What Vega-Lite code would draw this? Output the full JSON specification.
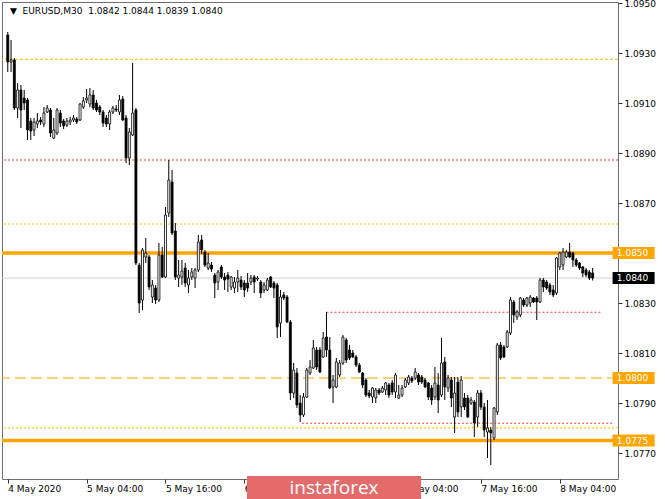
{
"$schema":"https://vega.github.io/schema/vega-lite/v6.json",
"width":616,"height":477,
"autosize":{"type":"none"},
"padding":{"left":2,"top":2,"right":47,"bottom":20},
"background":"white",
"config":{
 "view":{"stroke":"#6e6e6e","strokeWidth":1},
 "axis":{"grid":false,"domain":false,"labelFont":"DejaVu Sans","labelFontSize":9,"labelColor":"#000000","tickColor":"#333333","tickSize":4,"labelPadding":2}
},
"datasets":{
"levels":[
 {"price":1.09275,"kind":"far"},
 {"price":1.08872,"kind":"swing"},
 {"price":1.08616,"kind":"pivot"},
 {"price":1.0840,"kind":"bid"},
 {"price":1.0800,"kind":"mid"},
 {"price":1.07801,"kind":"pivot"},
 {"price":1.0850,"kind":"key"},
 {"price":1.0775,"kind":"key"},
 {"price":1.08263,"kind":"swing","from":"2020-05-06T16:30Z","to":"2020-05-08T10:27Z"},
 {"price":1.07819,"kind":"swing","from":"2020-05-06T12:48Z","to":"2020-05-08T12:06Z"}
],
"tags":[
 {"price":1.0850,"kind":"key"},
 {"price":1.0840,"kind":"bid"},
 {"price":1.0800,"kind":"mid"},
 {"price":1.0775,"kind":"key"}
],
"header":[
 {"label":"\u25bc\u00a0\u00a0EURUSD,M30\u00a0\u00a01.0842 1.0844 1.0839 1.0840"}
],
"brand":[
 {"label":"instaforex"}
],
"candles":[
{"t":"2020-05-04T16:00Z","o":1.09372,"h":1.09384,"l":1.09224,"c":1.09264},
{"t":"2020-05-04T16:30Z","o":1.09264,"h":1.09352,"l":1.09224,"c":1.09272},
{"t":"2020-05-04T17:00Z","o":1.09272,"h":1.09280,"l":1.09072,"c":1.09080},
{"t":"2020-05-04T17:30Z","o":1.09080,"h":1.09180,"l":1.09040,"c":1.09152},
{"t":"2020-05-04T18:00Z","o":1.09152,"h":1.09172,"l":1.09000,"c":1.09072},
{"t":"2020-05-04T18:30Z","o":1.09120,"h":1.09152,"l":1.09072,"c":1.09100},
{"t":"2020-05-04T19:00Z","o":1.09112,"h":1.09120,"l":1.08952,"c":1.08992},
{"t":"2020-05-04T19:30Z","o":1.09028,"h":1.09040,"l":1.08952,"c":1.08988},
{"t":"2020-05-04T20:00Z","o":1.08992,"h":1.09040,"l":1.08968,"c":1.09024},
{"t":"2020-05-04T20:30Z","o":1.09016,"h":1.09060,"l":1.09000,"c":1.09028},
{"t":"2020-05-04T21:00Z","o":1.09032,"h":1.09044,"l":1.09012,"c":1.09024},
{"t":"2020-05-04T21:30Z","o":1.09016,"h":1.09084,"l":1.09004,"c":1.09060},
{"t":"2020-05-04T22:00Z","o":1.09064,"h":1.09092,"l":1.09060,"c":1.09080},
{"t":"2020-05-04T22:30Z","o":1.09072,"h":1.09080,"l":1.08964,"c":1.08980},
{"t":"2020-05-04T23:00Z","o":1.08960,"h":1.09040,"l":1.08956,"c":1.08992},
{"t":"2020-05-04T23:30Z","o":1.08980,"h":1.09080,"l":1.08972,"c":1.09072},
{"t":"2020-05-05T00:00Z","o":1.09060,"h":1.09072,"l":1.09004,"c":1.09020},
{"t":"2020-05-05T00:30Z","o":1.09028,"h":1.09036,"l":1.08996,"c":1.09008},
{"t":"2020-05-05T01:00Z","o":1.09012,"h":1.09040,"l":1.09004,"c":1.09028},
{"t":"2020-05-05T01:30Z","o":1.09024,"h":1.09044,"l":1.09012,"c":1.09032},
{"t":"2020-05-05T02:00Z","o":1.09032,"h":1.09052,"l":1.09024,"c":1.09040},
{"t":"2020-05-05T02:30Z","o":1.09036,"h":1.09044,"l":1.09016,"c":1.09024},
{"t":"2020-05-05T03:00Z","o":1.09032,"h":1.09100,"l":1.09028,"c":1.09096},
{"t":"2020-05-05T03:30Z","o":1.09084,"h":1.09124,"l":1.09076,"c":1.09108},
{"t":"2020-05-05T04:00Z","o":1.09112,"h":1.09156,"l":1.09100,"c":1.09120},
{"t":"2020-05-05T04:30Z","o":1.09096,"h":1.09160,"l":1.09084,"c":1.09132},
{"t":"2020-05-05T05:00Z","o":1.09132,"h":1.09152,"l":1.09072,"c":1.09080},
{"t":"2020-05-05T05:30Z","o":1.09100,"h":1.09112,"l":1.09064,"c":1.09072},
{"t":"2020-05-05T06:00Z","o":1.09084,"h":1.09092,"l":1.09052,"c":1.09064},
{"t":"2020-05-05T06:30Z","o":1.09064,"h":1.09072,"l":1.09004,"c":1.09020},
{"t":"2020-05-05T07:00Z","o":1.09040,"h":1.09052,"l":1.09004,"c":1.09016},
{"t":"2020-05-05T07:30Z","o":1.09016,"h":1.09072,"l":1.08992,"c":1.09064},
{"t":"2020-05-05T08:00Z","o":1.09064,"h":1.09088,"l":1.09056,"c":1.09080},
{"t":"2020-05-05T08:30Z","o":1.09076,"h":1.09092,"l":1.09064,"c":1.09072},
{"t":"2020-05-05T09:00Z","o":1.09064,"h":1.09132,"l":1.09052,"c":1.09112},
{"t":"2020-05-05T09:30Z","o":1.09116,"h":1.09128,"l":1.09028,"c":1.09032},
{"t":"2020-05-05T10:00Z","o":1.09040,"h":1.09052,"l":1.08860,"c":1.08880},
{"t":"2020-05-05T10:30Z","o":1.08880,"h":1.09000,"l":1.08852,"c":1.08984},
{"t":"2020-05-05T11:00Z","o":1.08972,"h":1.09260,"l":1.08968,"c":1.09060},
{"t":"2020-05-05T11:30Z","o":1.09072,"h":1.09080,"l":1.08452,"c":1.08460},
{"t":"2020-05-05T12:00Z","o":1.08452,"h":1.08460,"l":1.08260,"c":1.08300},
{"t":"2020-05-05T12:30Z","o":1.08312,"h":1.08520,"l":1.08272,"c":1.08512},
{"t":"2020-05-05T13:00Z","o":1.08484,"h":1.08560,"l":1.08460,"c":1.08500},
{"t":"2020-05-05T13:30Z","o":1.08484,"h":1.08492,"l":1.08352,"c":1.08364},
{"t":"2020-05-05T14:00Z","o":1.08324,"h":1.08392,"l":1.08300,"c":1.08372},
{"t":"2020-05-05T14:30Z","o":1.08360,"h":1.08372,"l":1.08296,"c":1.08312},
{"t":"2020-05-05T15:00Z","o":1.08312,"h":1.08540,"l":1.08304,"c":1.08492},
{"t":"2020-05-05T15:30Z","o":1.08492,"h":1.08524,"l":1.08400,"c":1.08404},
{"t":"2020-05-05T16:00Z","o":1.08404,"h":1.08684,"l":1.08400,"c":1.08652},
{"t":"2020-05-05T16:30Z","o":1.08660,"h":1.08872,"l":1.08644,"c":1.08792},
{"t":"2020-05-05T17:00Z","o":1.08784,"h":1.08832,"l":1.08572,"c":1.08580},
{"t":"2020-05-05T17:30Z","o":1.08588,"h":1.08620,"l":1.08392,"c":1.08404},
{"t":"2020-05-05T18:00Z","o":1.08400,"h":1.08472,"l":1.08364,"c":1.08412},
{"t":"2020-05-05T18:30Z","o":1.08404,"h":1.08472,"l":1.08372,"c":1.08428},
{"t":"2020-05-05T19:00Z","o":1.08440,"h":1.08460,"l":1.08364,"c":1.08380},
{"t":"2020-05-05T19:30Z","o":1.08372,"h":1.08432,"l":1.08340,"c":1.08400},
{"t":"2020-05-05T20:00Z","o":1.08404,"h":1.08440,"l":1.08392,"c":1.08424},
{"t":"2020-05-05T20:30Z","o":1.08400,"h":1.08440,"l":1.08360,"c":1.08432},
{"t":"2020-05-05T21:00Z","o":1.08432,"h":1.08572,"l":1.08424,"c":1.08544},
{"t":"2020-05-05T21:30Z","o":1.08552,"h":1.08572,"l":1.08496,"c":1.08512},
{"t":"2020-05-05T22:00Z","o":1.08504,"h":1.08512,"l":1.08444,"c":1.08452},
{"t":"2020-05-05T22:30Z","o":1.08440,"h":1.08500,"l":1.08432,"c":1.08460},
{"t":"2020-05-05T23:00Z","o":1.08452,"h":1.08464,"l":1.08424,"c":1.08436},
{"t":"2020-05-05T23:30Z","o":1.08412,"h":1.08420,"l":1.08320,"c":1.08380},
{"t":"2020-05-06T00:00Z","o":1.08384,"h":1.08432,"l":1.08352,"c":1.08424},
{"t":"2020-05-06T00:30Z","o":1.08444,"h":1.08452,"l":1.08396,"c":1.08404},
{"t":"2020-05-06T01:00Z","o":1.08404,"h":1.08420,"l":1.08352,"c":1.08392},
{"t":"2020-05-06T01:30Z","o":1.08412,"h":1.08424,"l":1.08344,"c":1.08396},
{"t":"2020-05-06T02:00Z","o":1.08364,"h":1.08408,"l":1.08352,"c":1.08404},
{"t":"2020-05-06T02:30Z","o":1.08360,"h":1.08404,"l":1.08340,"c":1.08384},
{"t":"2020-05-06T03:00Z","o":1.08384,"h":1.08432,"l":1.08344,"c":1.08400},
{"t":"2020-05-06T03:30Z","o":1.08392,"h":1.08408,"l":1.08352,"c":1.08364},
{"t":"2020-05-06T04:00Z","o":1.08380,"h":1.08392,"l":1.08324,"c":1.08352},
{"t":"2020-05-06T04:30Z","o":1.08380,"h":1.08420,"l":1.08344,"c":1.08360},
{"t":"2020-05-06T05:00Z","o":1.08384,"h":1.08412,"l":1.08372,"c":1.08400},
{"t":"2020-05-06T05:30Z","o":1.08404,"h":1.08412,"l":1.08340,"c":1.08384},
{"t":"2020-05-06T06:00Z","o":1.08396,"h":1.08408,"l":1.08388,"c":1.08400},
{"t":"2020-05-06T06:30Z","o":1.08384,"h":1.08392,"l":1.08320,"c":1.08340},
{"t":"2020-05-06T07:00Z","o":1.08352,"h":1.08384,"l":1.08340,"c":1.08372},
{"t":"2020-05-06T07:30Z","o":1.08352,"h":1.08400,"l":1.08348,"c":1.08392},
{"t":"2020-05-06T08:00Z","o":1.08404,"h":1.08408,"l":1.08360,"c":1.08364},
{"t":"2020-05-06T08:30Z","o":1.08380,"h":1.08388,"l":1.08320,"c":1.08360},
{"t":"2020-05-06T09:00Z","o":1.08372,"h":1.08380,"l":1.08160,"c":1.08204},
{"t":"2020-05-06T09:30Z","o":1.08220,"h":1.08352,"l":1.08164,"c":1.08324},
{"t":"2020-05-06T10:00Z","o":1.08332,"h":1.08344,"l":1.08312,"c":1.08320},
{"t":"2020-05-06T10:30Z","o":1.08324,"h":1.08332,"l":1.08220,"c":1.08224},
{"t":"2020-05-06T11:00Z","o":1.08224,"h":1.08232,"l":1.07912,"c":1.07940},
{"t":"2020-05-06T11:30Z","o":1.07940,"h":1.08060,"l":1.07920,"c":1.08032},
{"t":"2020-05-06T12:00Z","o":1.08020,"h":1.08040,"l":1.07880,"c":1.07892},
{"t":"2020-05-06T12:30Z","o":1.07900,"h":1.07932,"l":1.07824,"c":1.07852},
{"t":"2020-05-06T13:00Z","o":1.07852,"h":1.07940,"l":1.07844,"c":1.07924},
{"t":"2020-05-06T13:30Z","o":1.07924,"h":1.08040,"l":1.07920,"c":1.08032},
{"t":"2020-05-06T14:00Z","o":1.08020,"h":1.08072,"l":1.08012,"c":1.08044},
{"t":"2020-05-06T14:30Z","o":1.08040,"h":1.08152,"l":1.08036,"c":1.08120},
{"t":"2020-05-06T15:00Z","o":1.08112,"h":1.08124,"l":1.08032,"c":1.08044},
{"t":"2020-05-06T15:30Z","o":1.08112,"h":1.08124,"l":1.08020,"c":1.08024},
{"t":"2020-05-06T16:00Z","o":1.08084,"h":1.08184,"l":1.08080,"c":1.08160},
{"t":"2020-05-06T16:30Z","o":1.08164,"h":1.08264,"l":1.08084,"c":1.08112},
{"t":"2020-05-06T17:00Z","o":1.08112,"h":1.08164,"l":1.07956,"c":1.07960},
{"t":"2020-05-06T17:30Z","o":1.07964,"h":1.08012,"l":1.07900,"c":1.07992},
{"t":"2020-05-06T18:00Z","o":1.07964,"h":1.08080,"l":1.07960,"c":1.08064},
{"t":"2020-05-06T18:30Z","o":1.08012,"h":1.08072,"l":1.08004,"c":1.08060},
{"t":"2020-05-06T19:00Z","o":1.08060,"h":1.08172,"l":1.08052,"c":1.08164},
{"t":"2020-05-06T19:30Z","o":1.08152,"h":1.08160,"l":1.08060,"c":1.08072},
{"t":"2020-05-06T20:00Z","o":1.08112,"h":1.08132,"l":1.08072,"c":1.08080},
{"t":"2020-05-06T20:30Z","o":1.08100,"h":1.08112,"l":1.08080,"c":1.08084},
{"t":"2020-05-06T21:00Z","o":1.08084,"h":1.08092,"l":1.08044,"c":1.08052},
{"t":"2020-05-06T21:30Z","o":1.08052,"h":1.08060,"l":1.08020,"c":1.08024},
{"t":"2020-05-06T22:00Z","o":1.08020,"h":1.08024,"l":1.07960,"c":1.07972},
{"t":"2020-05-06T22:30Z","o":1.07992,"h":1.08000,"l":1.07924,"c":1.07932},
{"t":"2020-05-06T23:00Z","o":1.07940,"h":1.07952,"l":1.07920,"c":1.07928},
{"t":"2020-05-06T23:30Z","o":1.07924,"h":1.07964,"l":1.07900,"c":1.07960},
{"t":"2020-05-07T00:00Z","o":1.07920,"h":1.07960,"l":1.07900,"c":1.07952},
{"t":"2020-05-07T00:30Z","o":1.07952,"h":1.07960,"l":1.07932,"c":1.07940},
{"t":"2020-05-07T01:00Z","o":1.07944,"h":1.07968,"l":1.07940,"c":1.07960},
{"t":"2020-05-07T01:30Z","o":1.07952,"h":1.07984,"l":1.07932,"c":1.07980},
{"t":"2020-05-07T02:00Z","o":1.07972,"h":1.07980,"l":1.07920,"c":1.07932},
{"t":"2020-05-07T02:30Z","o":1.07980,"h":1.07992,"l":1.07932,"c":1.07944},
{"t":"2020-05-07T03:00Z","o":1.07944,"h":1.08020,"l":1.07920,"c":1.08012},
{"t":"2020-05-07T03:30Z","o":1.07920,"h":1.07972,"l":1.07916,"c":1.07932},
{"t":"2020-05-07T04:00Z","o":1.07932,"h":1.07972,"l":1.07924,"c":1.07960},
{"t":"2020-05-07T04:30Z","o":1.07964,"h":1.08000,"l":1.07960,"c":1.07992},
{"t":"2020-05-07T05:00Z","o":1.07980,"h":1.08012,"l":1.07972,"c":1.08004},
{"t":"2020-05-07T05:30Z","o":1.08000,"h":1.08008,"l":1.07980,"c":1.07988},
{"t":"2020-05-07T06:00Z","o":1.08000,"h":1.08040,"l":1.07992,"c":1.08024},
{"t":"2020-05-07T06:30Z","o":1.08012,"h":1.08020,"l":1.07972,"c":1.07984},
{"t":"2020-05-07T07:00Z","o":1.08004,"h":1.08012,"l":1.07976,"c":1.07984},
{"t":"2020-05-07T07:30Z","o":1.07992,"h":1.08000,"l":1.07960,"c":1.07964},
{"t":"2020-05-07T08:00Z","o":1.07980,"h":1.07984,"l":1.07912,"c":1.07924},
{"t":"2020-05-07T08:30Z","o":1.07960,"h":1.07972,"l":1.07892,"c":1.07912},
{"t":"2020-05-07T09:00Z","o":1.07924,"h":1.08044,"l":1.07912,"c":1.07980},
{"t":"2020-05-07T09:30Z","o":1.07972,"h":1.08020,"l":1.07860,"c":1.07912},
{"t":"2020-05-07T10:00Z","o":1.07932,"h":1.08160,"l":1.07924,"c":1.08060},
{"t":"2020-05-07T10:30Z","o":1.08064,"h":1.08084,"l":1.07912,"c":1.07964},
{"t":"2020-05-07T11:00Z","o":1.07960,"h":1.08012,"l":1.07944,"c":1.08000},
{"t":"2020-05-07T11:30Z","o":1.07992,"h":1.08004,"l":1.07884,"c":1.07920},
{"t":"2020-05-07T12:00Z","o":1.07844,"h":1.08004,"l":1.07780,"c":1.07940},
{"t":"2020-05-07T12:30Z","o":1.07984,"h":1.08004,"l":1.07844,"c":1.07864},
{"t":"2020-05-07T13:00Z","o":1.07884,"h":1.08008,"l":1.07844,"c":1.07992},
{"t":"2020-05-07T13:30Z","o":1.07920,"h":1.07940,"l":1.07872,"c":1.07884},
{"t":"2020-05-07T14:00Z","o":1.07920,"h":1.07932,"l":1.07840,"c":1.07844},
{"t":"2020-05-07T14:30Z","o":1.07900,"h":1.07924,"l":1.07892,"c":1.07912},
{"t":"2020-05-07T15:00Z","o":1.07904,"h":1.07912,"l":1.07764,"c":1.07820},
{"t":"2020-05-07T15:30Z","o":1.07844,"h":1.07952,"l":1.07804,"c":1.07940},
{"t":"2020-05-07T16:00Z","o":1.07940,"h":1.07952,"l":1.07872,"c":1.07884},
{"t":"2020-05-07T16:30Z","o":1.07884,"h":1.07900,"l":1.07764,"c":1.07792},
{"t":"2020-05-07T17:00Z","o":1.07784,"h":1.07912,"l":1.07680,"c":1.07800},
{"t":"2020-05-07T17:30Z","o":1.07792,"h":1.07804,"l":1.07652,"c":1.07780},
{"t":"2020-05-07T18:00Z","o":1.07760,"h":1.07884,"l":1.07752,"c":1.07880},
{"t":"2020-05-07T18:30Z","o":1.07864,"h":1.08140,"l":1.07852,"c":1.08132},
{"t":"2020-05-07T19:00Z","o":1.08132,"h":1.08144,"l":1.08072,"c":1.08080},
{"t":"2020-05-07T19:30Z","o":1.08124,"h":1.08132,"l":1.08080,"c":1.08084},
{"t":"2020-05-07T20:00Z","o":1.08124,"h":1.08192,"l":1.08120,"c":1.08184},
{"t":"2020-05-07T20:30Z","o":1.08180,"h":1.08324,"l":1.08172,"c":1.08312},
{"t":"2020-05-07T21:00Z","o":1.08304,"h":1.08312,"l":1.08220,"c":1.08252},
{"t":"2020-05-07T21:30Z","o":1.08244,"h":1.08272,"l":1.08232,"c":1.08264},
{"t":"2020-05-07T22:00Z","o":1.08252,"h":1.08324,"l":1.08244,"c":1.08320},
{"t":"2020-05-07T22:30Z","o":1.08312,"h":1.08320,"l":1.08284,"c":1.08292},
{"t":"2020-05-07T23:00Z","o":1.08292,"h":1.08324,"l":1.08284,"c":1.08320},
{"t":"2020-05-07T23:30Z","o":1.08300,"h":1.08332,"l":1.08284,"c":1.08324},
{"t":"2020-05-08T00:00Z","o":1.08320,"h":1.08324,"l":1.08300,"c":1.08304},
{"t":"2020-05-08T00:30Z","o":1.08320,"h":1.08328,"l":1.08232,"c":1.08304},
{"t":"2020-05-08T01:00Z","o":1.08304,"h":1.08400,"l":1.08300,"c":1.08392},
{"t":"2020-05-08T01:30Z","o":1.08392,"h":1.08400,"l":1.08344,"c":1.08364},
{"t":"2020-05-08T02:00Z","o":1.08384,"h":1.08392,"l":1.08352,"c":1.08360},
{"t":"2020-05-08T02:30Z","o":1.08372,"h":1.08380,"l":1.08332,"c":1.08344},
{"t":"2020-05-08T03:00Z","o":1.08352,"h":1.08372,"l":1.08324,"c":1.08332},
{"t":"2020-05-08T03:30Z","o":1.08340,"h":1.08484,"l":1.08332,"c":1.08480},
{"t":"2020-05-08T04:00Z","o":1.08444,"h":1.08504,"l":1.08432,"c":1.08500},
{"t":"2020-05-08T04:30Z","o":1.08452,"h":1.08520,"l":1.08432,"c":1.08504},
{"t":"2020-05-08T05:00Z","o":1.08484,"h":1.08512,"l":1.08480,"c":1.08504},
{"t":"2020-05-08T05:30Z","o":1.08504,"h":1.08540,"l":1.08480,"c":1.08484},
{"t":"2020-05-08T06:00Z","o":1.08500,"h":1.08504,"l":1.08444,"c":1.08472},
{"t":"2020-05-08T06:30Z","o":1.08472,"h":1.08480,"l":1.08444,"c":1.08452},
{"t":"2020-05-08T07:00Z","o":1.08460,"h":1.08464,"l":1.08432,"c":1.08440},
{"t":"2020-05-08T07:30Z","o":1.08444,"h":1.08448,"l":1.08404,"c":1.08420},
{"t":"2020-05-08T08:00Z","o":1.08432,"h":1.08440,"l":1.08404,"c":1.08412},
{"t":"2020-05-08T08:30Z","o":1.08424,"h":1.08432,"l":1.08392,"c":1.08400},
{"t":"2020-05-08T09:00Z","o":1.08420,"h":1.08440,"l":1.08390,"c":1.08400}
]
},
"layer":[
{
 "data":{"name":"levels"},
 "transform":[{"filter":"!datum.from"}],
 "mark":{"type":"rule"},
 "encoding":{
  "y":{"field":"price","type":"quantitative","title":null,
   "scale":{"domain":[1.07596,1.09504],"zero":false,"nice":false},
   "axis":{"orient":"right","values":[1.077,1.079,1.081,1.083,1.087,1.089,1.091,1.093,1.095],"format":".4f","labelAlign":"left","labelBaseline":"middle"}},
  "color":{"field":"kind","type":"nominal","legend":null,
   "scale":{"domain":["far","pivot","swing","key","mid","bid"],"range":["#f0c000","#f5c800","#ff3b3b","#ffa500","#ffa500","#d0d0d0"]}},
  "strokeDash":{"field":"kind","type":"nominal","legend":null,
   "scale":{"domain":["far","pivot","swing","key","mid","bid"],"range":[[3,2],[2,2],[2,2],[1,0],[11,5],[1,0]]}},
  "strokeWidth":{"condition":{"test":"datum.kind=='key'","value":3.5},"value":1}
 }
},
{
 "data":{"name":"levels"},
 "transform":[{"filter":"datum.from"}],
 "mark":{"type":"rule","strokeWidth":1},
 "encoding":{
  "x":{"field":"from","type":"temporal","title":null},
  "x2":{"field":"to"},
  "y":{"field":"price","type":"quantitative","title":null},
  "color":{"field":"kind","type":"nominal","legend":null},
  "strokeDash":{"field":"kind","type":"nominal","legend":null}
 }
},
{
 "data":{"name":"candles"},
 "layer":[
  {
   "mark":{"type":"rule","color":"#000000","strokeWidth":1},
   "encoding":{
    "x":{"field":"t","type":"temporal","title":null,
     "scale":{"type":"utc","domain":[{"year":2020,"month":5,"date":4,"hours":15,"minutes":53,"utc":true},{"year":2020,"month":5,"date":8,"hours":12,"minutes":6,"utc":true}]},
     "axis":{"values":[
       {"year":2020,"month":5,"date":4,"hours":16,"utc":true},
       {"year":2020,"month":5,"date":5,"hours":4,"utc":true},
       {"year":2020,"month":5,"date":5,"hours":16,"utc":true},
       {"year":2020,"month":5,"date":6,"hours":4,"utc":true},
       {"year":2020,"month":5,"date":6,"hours":16,"utc":true},
       {"year":2020,"month":5,"date":7,"hours":4,"utc":true},
       {"year":2020,"month":5,"date":7,"hours":16,"utc":true},
       {"year":2020,"month":5,"date":8,"hours":4,"utc":true}],
      "labelExpr":"utcdate(datum.value) == 4 ? '4 May 2020' : utcFormat(datum.value, '%-d %b %H:%M')",
      "labelAlign":"left","labelBaseline":"top","labelPadding":1,"labelFlush":false,"labelOverlap":false}},
    "y":{"field":"l","type":"quantitative","title":null},
    "y2":{"field":"h"}
   }
  },
  {
   "mark":{"type":"bar","size":2,"stroke":"#000000","strokeWidth":0.8},
   "encoding":{
    "x":{"field":"t","type":"temporal","title":null},
    "y":{"field":"o","type":"quantitative","title":null},
    "y2":{"field":"c"},
    "fill":{"condition":{"test":"datum.c >= datum.o","value":"#ffffff"},"value":"#000000"}
   }
  }
 ]
},
{
 "data":{"name":"tags"},
 "layer":[
  {
   "mark":{"type":"point","shape":"M-1,-0.2857L1,-0.2857L1,0.2857L-1,0.2857Z","size":1764,"filled":true,"opacity":1,"strokeWidth":0},
   "encoding":{
    "x":{"datum":{"year":2020,"month":5,"date":8,"hours":15,"minutes":14,"utc":true},"type":"temporal"},
    "y":{"field":"price","type":"quantitative"},
    "fill":{"condition":{"test":"datum.kind=='bid'","value":"#000000"},"value":"#ffa500"}
   }
  },
  {
   "mark":{"type":"text","align":"left","baseline":"middle","font":"DejaVu Sans","fontSize":9,"color":"#ffffff"},
   "encoding":{
    "x":{"datum":{"year":2020,"month":5,"date":8,"hours":12,"minutes":41,"utc":true},"type":"temporal"},
    "y":{"field":"price","type":"quantitative"},
    "text":{"field":"price","type":"quantitative","format":".4f"}
   }
  }
 ]
},
{
 "data":{"name":"header"},
 "mark":{"type":"text","align":"left","baseline":"middle","font":"DejaVu Sans","fontSize":9,"color":"#000000"},
 "encoding":{
  "x":{"datum":{"year":2020,"month":5,"date":4,"hours":16,"minutes":20,"utc":true},"type":"temporal"},
  "y":{"datum":1.09468,"type":"quantitative"},
  "text":{"field":"label","type":"nominal"}
 }
},
{
 "data":{"name":"brand"},
 "layer":[
  {
   "mark":{"type":"rect","color":"#e36b6b"},
   "encoding":{
    "x":{"datum":{"year":2020,"month":5,"date":6,"hours":4,"minutes":24,"utc":true},"type":"temporal"},
    "x2":{"datum":{"year":2020,"month":5,"date":7,"hours":6,"minutes":54,"utc":true}},
    "y":{"datum":1.07608,"type":"quantitative"},
    "y2":{"datum":1.07516}
   }
  },
  {
   "mark":{"type":"text","align":"center","baseline":"middle","font":"Open Sans","fontSize":19,"color":"#ffffff"},
   "encoding":{
    "x":{"datum":{"year":2020,"month":5,"date":6,"hours":17,"minutes":39,"utc":true},"type":"temporal"},
    "y":{"datum":1.07562,"type":"quantitative"},
    "text":{"field":"label","type":"nominal"}
   }
  }
 ]
}
]
}
